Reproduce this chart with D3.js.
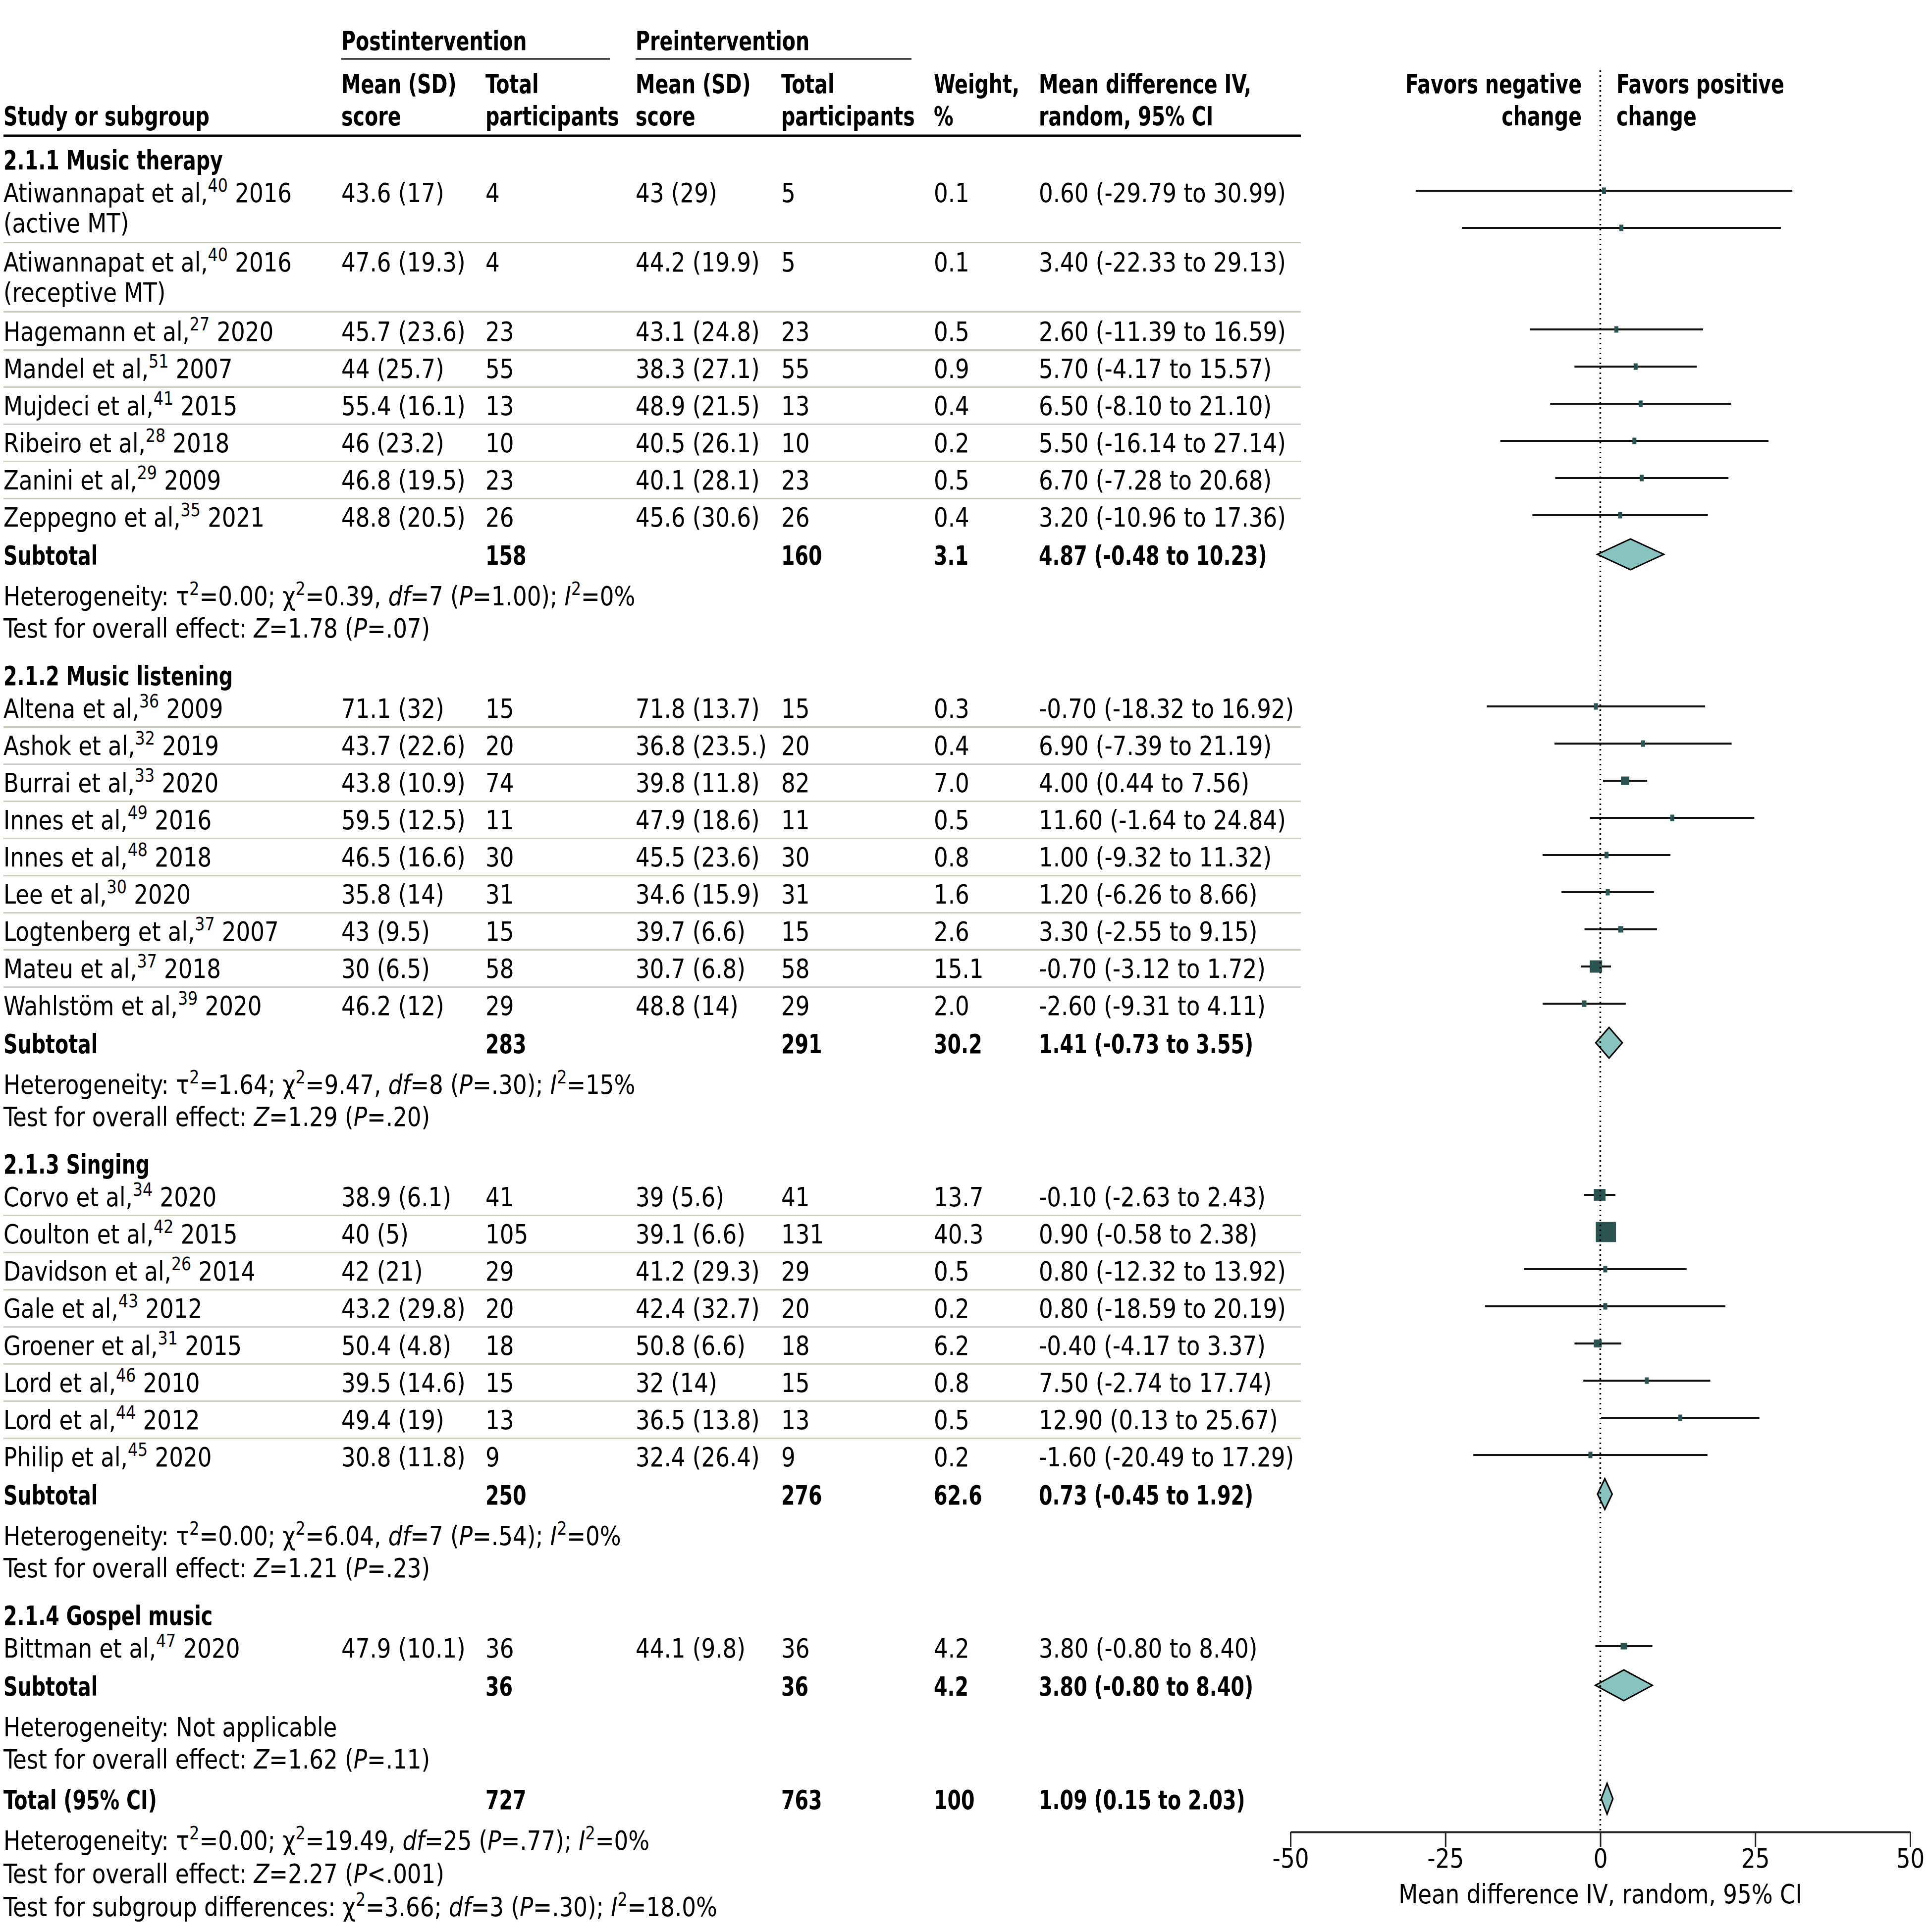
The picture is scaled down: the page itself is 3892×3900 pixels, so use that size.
<!DOCTYPE html>
<html>
<head>
<meta charset="utf-8">
<script src="https://cdn.jsdelivr.net/npm/d3@7"></script>
<style>
body { margin: 0; background: #fff; }
text { font-family: "Liberation Sans Narrow", "DejaVu Sans Condensed", sans-serif; fill: #000; }
</style>
</head>
<body>
<div id="plot"></div>
<script>
// forest plot: music interventions, mean difference post vs pre

const WIDTH = 3892;
const HEIGHT = 3900;
const FS = 54;
const SX_REG = 0.93;   // squeeze text a bit, source font is condensed
const SX_BOLD = 0.815;

// ---- data ----
const groupNames = ["2.1.1 Music therapy", "2.1.2 Music listening", "2.1.3 Singing", "2.1.4 Gospel music"];

const studyGroup = [0,0,0,0,0,0,0,0, 1,1,1,1,1,1,1,1,1, 2,2,2,2,2,2,2,2, 3];
const studyAuthor = [
  "Atiwannapat et al", "Atiwannapat et al", "Hagemann et al", "Mandel et al", "Mujdeci et al",
  "Ribeiro et al", "Zanini et al", "Zeppegno et al",
  "Altena et al", "Ashok et al", "Burrai et al", "Innes et al", "Innes et al", "Lee et al",
  "Logtenberg et al", "Mateu et al", "Wahlstöm et al",
  "Corvo et al", "Coulton et al", "Davidson et al", "Gale et al", "Groener et al", "Lord et al",
  "Lord et al", "Philip et al",
  "Bittman et al"];
const studyRef = [40,40,27,51,41,28,29,35, 36,32,33,49,48,30,37,37,39, 34,42,26,43,31,46,44,45, 47];
const studyYear = [2016,2016,2020,2007,2015,2018,2009,2021, 2009,2019,2020,2016,2018,2020,2007,2018,2020,
  2020,2015,2014,2012,2015,2010,2012,2020, 2020];
const studyNote = ["(active MT)", "(receptive MT)"];
const postScore = ["43.6 (17)", "47.6 (19.3)", "45.7 (23.6)", "44 (25.7)", "55.4 (16.1)", "46 (23.2)", "46.8 (19.5)", "48.8 (20.5)",
  "71.1 (32)", "43.7 (22.6)", "43.8 (10.9)", "59.5 (12.5)", "46.5 (16.6)", "35.8 (14)", "43 (9.5)", "30 (6.5)", "46.2 (12)",
  "38.9 (6.1)", "40 (5)", "42 (21)", "43.2 (29.8)", "50.4 (4.8)", "39.5 (14.6)", "49.4 (19)", "30.8 (11.8)",
  "47.9 (10.1)"];
const postTotal = [4,4,23,55,13,10,23,26, 15,20,74,11,30,31,15,58,29, 41,105,29,20,18,15,13,9, 36];
const preScore = ["43 (29)", "44.2 (19.9)", "43.1 (24.8)", "38.3 (27.1)", "48.9 (21.5)", "40.5 (26.1)", "40.1 (28.1)", "45.6 (30.6)",
  "71.8 (13.7)", "36.8 (23.5.)", "39.8 (11.8)", "47.9 (18.6)", "45.5 (23.6)", "34.6 (15.9)", "39.7 (6.6)", "30.7 (6.8)", "48.8 (14)",
  "39 (5.6)", "39.1 (6.6)", "41.2 (29.3)", "42.4 (32.7)", "50.8 (6.6)", "32 (14)", "36.5 (13.8)", "32.4 (26.4)",
  "44.1 (9.8)"];
const preTotal = [5,5,23,55,13,10,23,26, 15,20,82,11,30,31,15,58,29, 41,131,29,20,18,15,13,9, 36];
const studyWeight = [0.1,0.1,0.5,0.9,0.4,0.2,0.5,0.4, 0.3,0.4,7.0,0.5,0.8,1.6,2.6,15.1,2.0,
  13.7,40.3,0.5,0.2,6.2,0.8,0.5,0.2, 4.2];
const studyMD = [0.60,3.40,2.60,5.70,6.50,5.50,6.70,3.20, -0.70,6.90,4.00,11.60,1.00,1.20,3.30,-0.70,-2.60,
  -0.10,0.90,0.80,0.80,-0.40,7.50,12.90,-1.60, 3.80];
const studyLow = [-29.79,-22.33,-11.39,-4.17,-8.10,-16.14,-7.28,-10.96, -18.32,-7.39,0.44,-1.64,-9.32,-6.26,-2.55,-3.12,-9.31,
  -2.63,-0.58,-12.32,-18.59,-4.17,-2.74,0.13,-20.49, -0.80];
const studyHigh = [30.99,29.13,16.59,15.57,21.10,27.14,20.68,17.36, 16.92,21.19,7.56,24.84,11.32,8.66,9.15,1.72,4.11,
  2.43,2.38,13.92,20.19,3.37,17.74,25.67,17.29, 8.40];

const subPostTotal = [158, 283, 250, 36];
const subPreTotal = [160, 291, 276, 36];
const subWeight = [3.1, 30.2, 62.6, 4.2];
const subMD = [4.87, 1.41, 0.73, 3.80];
const subLow = [-0.48, -0.73, -0.45, -0.80];
const subHigh = [10.23, 3.55, 1.92, 8.40];
const subHet = [
  "Heterogeneity: τ^2^ = 0.00; χ^2^ = 0.39, *df* = 7 (*P* = 1.00); *I*^2^ = 0%",
  "Heterogeneity: τ^2^ = 1.64; χ^2^ = 9.47, *df* = 8 (*P* = .30); *I*^2^ = 15%",
  "Heterogeneity: τ^2^ = 0.00; χ^2^ = 6.04, *df* = 7 (*P* = .54); *I*^2^ = 0%",
  "Heterogeneity: Not applicable"];
const subTest = [
  "Test for overall effect: *Z* = 1.78 (*P* = .07)",
  "Test for overall effect: *Z* = 1.29 (*P* = .20)",
  "Test for overall effect: *Z* = 1.21 (*P* = .23)",
  "Test for overall effect: *Z* = 1.62 (*P* = .11)"];

const totalPost = 727, totalPre = 763, totalWeight = 100;
const totalMD = 1.09, totalLow = 0.15, totalHigh = 2.03;
const totalNotes = [
  "Heterogeneity: τ^2^ = 0.00; χ^2^ = 19.49, *df* = 25 (*P* = .77); *I*^2^ = 0%",
  "Test for overall effect: *Z* = 2.27 (*P* < .001)",
  "Test for subgroup differences: χ^2^ = 3.66; *df* = 3 (*P* = .30); *I*^2^ = 18.0%"];

const xTicks = [-50, -25, 0, 25, 50];

// ---- layout ----
const COL = { study: 7, postScore: 689, postTotal: 980, preScore: 1283, preTotal: 1577, weight: 1885, md: 2097 };
const TABLE_RIGHT = 2626;
const AXIS_Y = 3698;

const svg = d3.select("#plot")
  .append("svg")
    .attr("width", WIDTH)
    .attr("height", HEIGHT);

const x = d3.scaleLinear().domain([-50, 50]).range([2605, 3856]);

function fmtCI(m, lo, hi) {
  return m.toFixed(2) + " (" + lo.toFixed(2) + " to " + hi.toFixed(2) + ")";
}
function fmtW(w) {
  return w === 100 ? "100" : w.toFixed(1);
}

// text with ^sup^ and *italic* markup
function addText(xp, yp, str, bold, anchor) {
  const t = svg.append("text")
    .attr("transform", "translate(" + xp + "," + yp + ") scale(" + (bold ? SX_BOLD : SX_REG) + ",1)")
    .attr("dy", "0.36em")
    .attr("font-size", FS)
    .attr("font-weight", bold ? "bold" : "normal")
    .attr("text-anchor", anchor || "start");
  str = String(str).replace(/ = /g, "=").replace(/ < /g, "<");
  const parts = str.split(/(\^[^^]+\^|\*[^*]+\*)/);
  let raised = false;
  parts.forEach(p => {
    if (!p) return;
    if (p[0] === "^") {
      t.append("tspan").attr("dy", -0.4 * FS).attr("font-size", FS * 0.7).text(p.slice(1, -1));
      raised = true;
    } else {
      const s = t.append("tspan");
      if (p[0] === "*") { s.attr("font-style", "italic"); p = p.slice(1, -1); }
      if (raised) { s.attr("dy", 0.4 * FS); raised = false; }
      s.text(p);
    }
  });
  return t;
}

function hline(x1, x2, y, w, color) {
  svg.append("line")
    .attr("x1", x1).attr("x2", x2)
    .attr("y1", y).attr("y2", y)
    .attr("stroke", color).attr("stroke-width", w);
}

// header
addText(COL.postScore, 82, "Postintervention", true);
hline(689, 1231, 119, 3, "#111");
addText(COL.preScore, 82, "Preintervention", true);
hline(1283, 1840, 119, 3, "#111");

addText(COL.study, 234, "Study or subgroup", true);
addText(COL.postScore, 169, "Mean (SD)", true);
addText(COL.postScore, 234, "score", true);
addText(COL.postTotal, 169, "Total", true);
addText(COL.postTotal, 234, "participants", true);
addText(COL.preScore, 169, "Mean (SD)", true);
addText(COL.preScore, 234, "score", true);
addText(COL.preTotal, 169, "Total", true);
addText(COL.preTotal, 234, "participants", true);
addText(COL.weight, 169, "Weight,", true);
addText(COL.weight, 234, "%", true);
addText(COL.md, 169, "Mean difference IV,", true);
addText(COL.md, 234, "random, 95% CI", true);
hline(7, TABLE_RIGHT, 274, 5, "#000");

addText(3193, 169, "Favors negative", true, "end");
addText(3193, 234, "change", true, "end");
addText(3263, 169, "Favors positive", true);
addText(3263, 234, "change", true);

// rows
const marks = [];     // study squares
const diamonds = [];  // pooled estimates
let y = 323;
let prevPlotY = null, prevWrapped = false;

groupNames.forEach((gname, gi) => {
  addText(COL.study, y, gname, true);
  y += 66;
  const idx = d3.range(studyGroup.length).filter(i => studyGroup[i] === gi);
  idx.forEach((i, k) => {
    const wrapped = !!studyNote[i];
    addText(COL.study, y, studyAuthor[i] + ",^" + studyRef[i] + "^ " + studyYear[i]);
    addText(COL.postScore, y, postScore[i]);
    addText(COL.postTotal, y, postTotal[i]);
    addText(COL.preScore, y, preScore[i]);
    addText(COL.preTotal, y, preTotal[i]);
    addText(COL.weight, y, fmtW(studyWeight[i]));
    addText(COL.md, y, fmtCI(studyMD[i], studyLow[i], studyHigh[i]));
    if (wrapped) addText(COL.study, y + 61, studyNote[i]);

    const plotY = (wrapped && prevWrapped) ? prevPlotY + 75 : y - 4;
    marks.push({ i: i, y: plotY });
    prevPlotY = plotY;
    prevWrapped = wrapped;

    const bottom = wrapped ? y + 61 : y;
    const step = wrapped ? 140 - 61 : 75;
    if (k < idx.length - 1) {
      hline(7, TABLE_RIGHT, bottom + step / 2, 3, "#c9cebe");
      y = bottom + step;
    } else {
      y = bottom + 77;
    }
  });
  // subtotal
  addText(COL.study, y, "Subtotal", true);
  addText(COL.postTotal, y, subPostTotal[gi], true);
  addText(COL.preTotal, y, subPreTotal[gi], true);
  addText(COL.weight, y, fmtW(subWeight[gi]), true);
  addText(COL.md, y, fmtCI(subMD[gi], subLow[gi], subHigh[gi]), true);
  diamonds.push({ m: subMD[gi], lo: subLow[gi], hi: subHigh[gi], y: y - 2 });
  y += 82;
  addText(COL.study, y, subHet[gi]);
  y += 65;
  addText(COL.study, y, subTest[gi]);
  y += gi < groupNames.length - 1 ? 96 : 82;
});

// total
addText(COL.study, y, "Total (95% CI)", true);
addText(COL.postTotal, y, totalPost, true);
addText(COL.preTotal, y, totalPre, true);
addText(COL.weight, y, fmtW(totalWeight), true);
addText(COL.md, y, fmtCI(totalMD, totalLow, totalHigh), true);
diamonds.push({ m: totalMD, lo: totalLow, hi: totalHigh, y: y - 2 });
y += 82;
totalNotes.forEach(n => { addText(COL.study, y, n); y += 67; });

// ---- forest panel ----
const plot = svg.append("g");

plot.selectAll(".ci")
  .data(marks)
  .enter().append("line")
    .attr("class", "ci")
    .attr("x1", d => x(studyLow[d.i]))
    .attr("x2", d => x(studyHigh[d.i]))
    .attr("y1", d => d.y).attr("y2", d => d.y)
    .attr("stroke", "#111")
    .attr("stroke-width", 4);

function boxW(w) { return Math.max(8, Math.sqrt(w) * 6.4); }
function boxH(w) { return Math.max(13, Math.sqrt(w) * 6.4); }

plot.selectAll(".box")
  .data(marks)
  .enter().append("rect")
    .attr("class", "box")
    .attr("x", d => x(studyMD[d.i]) - boxW(studyWeight[d.i]) / 2)
    .attr("y", d => d.y - boxH(studyWeight[d.i]) / 2)
    .attr("width", d => boxW(studyWeight[d.i]))
    .attr("height", d => boxH(studyWeight[d.i]))
    .attr("fill", "#2a5351");

plot.selectAll(".dia")
  .data(diamonds)
  .enter().append("polygon")
    .attr("class", "dia")
    .attr("points", d => [[x(d.lo), d.y], [x(d.m), d.y - 31], [x(d.hi), d.y], [x(d.m), d.y + 31]].join(" "))
    .attr("fill", "#88c3c0")
    .attr("stroke", "#000")
    .attr("stroke-width", 3)
    .attr("stroke-linejoin", "miter");

// null line
plot.append("line")
  .attr("x1", x(0)).attr("x2", x(0))
  .attr("y1", 142).attr("y2", AXIS_Y)
  .attr("stroke", "#000")
  .attr("stroke-width", 3.5)
  .attr("stroke-dasharray", "3 7");

// axis
const axis = plot.append("g")
  .attr("transform", "translate(0," + AXIS_Y + ")")
  .call(d3.axisBottom(x).tickValues(xTicks).tickSize(30).tickSizeOuter(0).tickPadding(4).tickFormat(d => String(d)));
axis.attr("font-family", null);
axis.select(".domain").attr("stroke", "#222").attr("stroke-width", 4);
axis.selectAll(".tick line").attr("stroke", "#222").attr("stroke-width", 3);
axis.selectAll(".tick text")
  .attr("font-size", FS)
  .attr("fill", "#000")
  .attr("transform", "scale(" + SX_REG + ",1)");

addText(x(0), 3823, "Mean difference IV, random, 95% CI", false, "middle");
</script>
</body>
</html>
